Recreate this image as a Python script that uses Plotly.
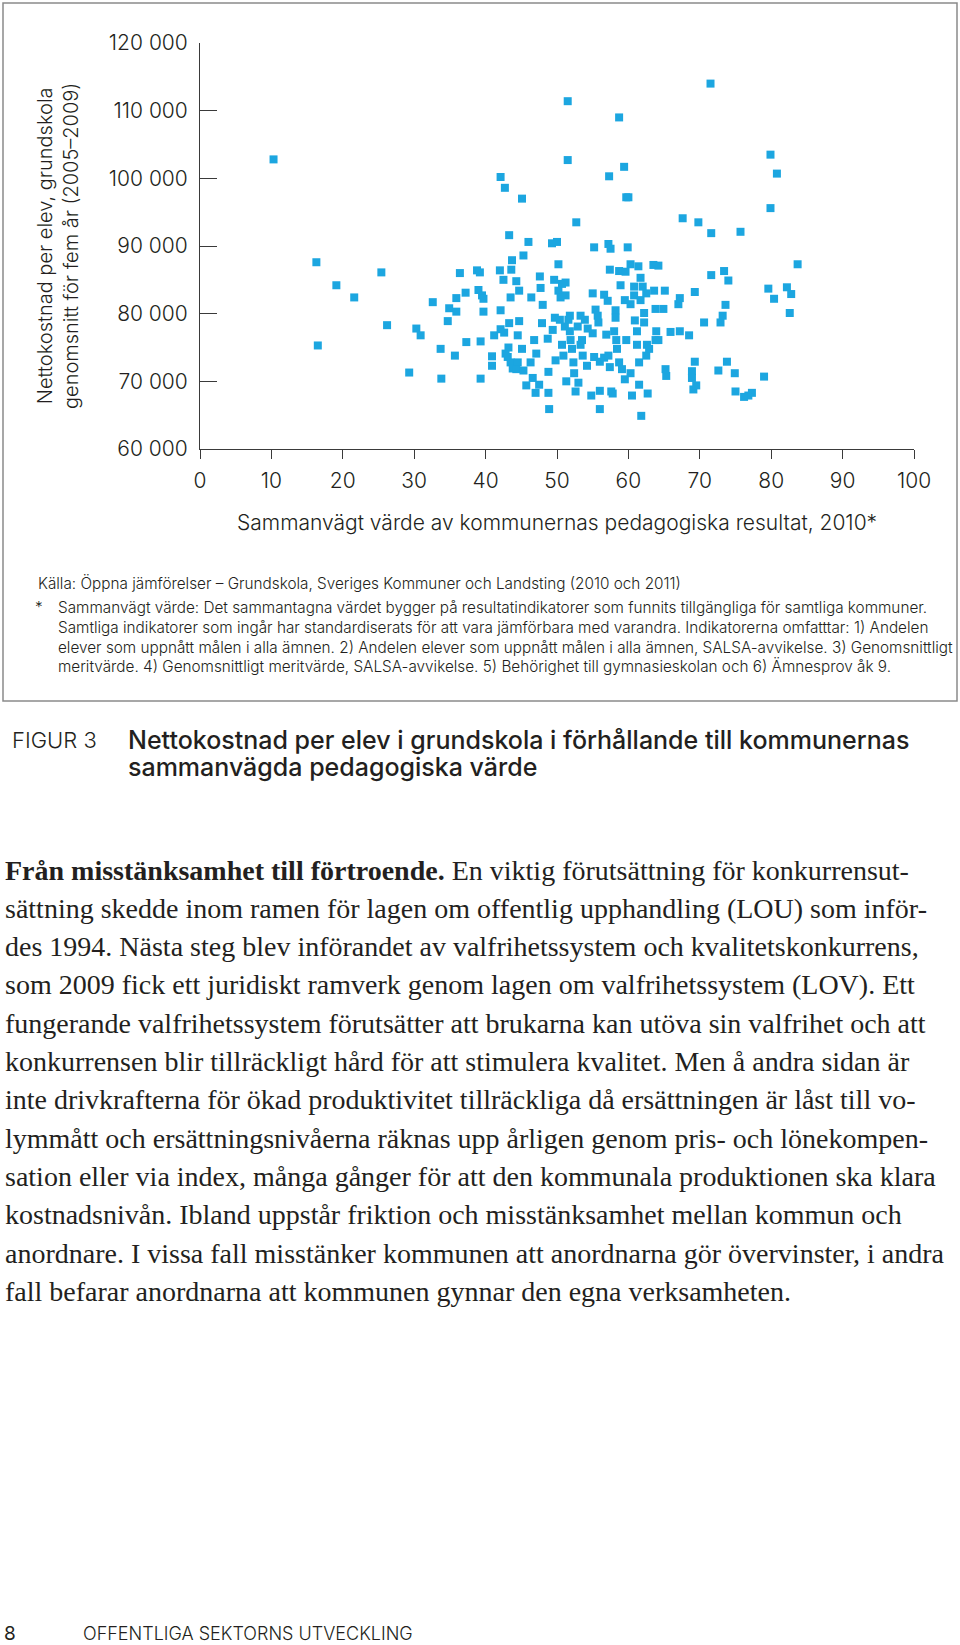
import plotly.graph_objects as go

# ---------------- data ----------------
pedagogiskt_varde = [
 10.3,16.3,16.5,19.1,21.6,25.4,26.2,29.3,30.3,30.9,32.6,33.7,33.8,34.9,34.7,35.9,35.9,35.7,36.4,37.2,
 37.3,38.8,39.2,39.0,39.5,39.7,39.7,39.3,39.3,40.9,40.9,41.2,42.0,42.1,42.7,42.1,42.5,42.1,42.6,42.8,
 43.1,43.3,43.7,43.6,43.5,43.3,43.2,43.5,43.8,44.3,44.7,44.7,44.5,44.5,44.3,45.1,45.3,45.1,45.3,45.7,
 46.0,46.4,46.8,46.3,46.6,47.1,47.0,47.5,47.6,47.7,48.0,48.7,48.8,48.8,48.9,49.3,49.6,49.4,49.7,49.8,
 50.0,50.2,50.2,50.4,50.5,50.7,50.7,50.9,51.1,51.2,51.2,51.3,51.5,51.5,51.6,51.8,51.9,52.1,52.3,52.4,
 52.6,52.7,52.9,53.3,53.3,53.0,53.6,53.9,54.2,54.8,55.0,55.0,55.2,55.2,55.4,55.7,55.8,56.0,56.0,56.0,
 56.6,56.6,57.1,57.2,57.3,57.5,57.4,57.2,57.4,57.6,57.8,58.0,58.2,58.3,58.4,58.7,58.7,58.9,58.7,59.1,
 59.4,59.6,59.7,60.0,59.9,59.5,59.7,59.5,60.3,60.3,60.3,60.5,60.8,60.8,61.2,61.2,61.4,61.5,61.5,61.7,
 61.7,62.0,62.2,62.2,62.5,62.6,62.7,62.5,61.8,63.5,64.2,63.6,63.8,63.9,63.8,64.2,64.9,65.1,65.3,65.2,
 65.9,67.2,67.0,67.2,67.6,68.5,68.9,68.9,69.1,69.3,69.5,69.3,69.8,70.6,71.5,71.6,71.6,72.6,72.9,73.2,
 73.4,73.6,74.0,73.8,74.9,75.0,75.7,76.2,76.8,77.3,79.0,79.6,79.9,79.9,80.4,80.8,82.2,82.8,82.6,83.7,
 51.8,54.3,58.2,53.5,62.9,47.9,56.9,60.9,
]
nettokostnad = [
 102800,87600,75300,84200,82400,86100,78300,71300,77800,76800,81700,74800,70400,80800,78900,80300,82300,73800,86000,83100,
 75800,86400,86100,83500,82700,82200,80300,75900,70400,73700,72300,76800,86400,100200,98600,80500,85000,77700,77200,74100,
 73600,91600,87900,86500,82400,78600,75000,72800,71900,84800,83400,78900,76800,72800,71800,97000,88600,74800,71600,69400,
 90600,82400,76100,72800,70500,74100,68300,69500,85500,83800,81300,76300,71400,68300,65900,90400,85000,77600,79400,73100,
 90600,87300,83400,79100,82400,84400,75400,73800,78100,84600,82700,70000,111400,102700,79100,77400,76100,74800,72800,71200,
 68500,93500,78100,79700,75400,69800,73800,79100,72300,67900,83000,77100,89800,73600,80600,79700,78700,72900,68600,65900,
 73500,82800,81900,90300,100300,89600,86500,73800,72100,68500,68200,77400,80500,76100,74800,109000,86300,84200,72800,71800,
 101700,86200,97200,97200,89800,82000,76100,70300,87300,81400,71200,67900,84000,82700,77400,75400,87000,72800,69500,82000,
 85300,84000,80100,78700,73800,75400,68200,83000,64900,87200,87100,83400,80700,77400,76100,76100,80700,83400,70800,71800,
 77300,77400,81400,82300,94100,76800,71500,70500,68800,72900,69400,83200,93500,78700,114000,91900,85700,71600,78700,79700,
 86300,81300,84900,72900,71200,68500,92100,67700,67900,68300,70700,83700,95600,103500,82200,100700,83900,82900,80100,87300,
 79700,77800,79400,76100,74800,78600,76900,79000,
]

x_tickvals = [0, 10, 20, 30, 40, 50, 60, 70, 80, 90, 100]
x_ticktext = ["0", "10", "20", "30", "40", "50", "60", "70", "80", "90", "100"]
y_tickvals = [60000, 70000, 80000, 90000, 100000, 110000, 120000]
y_ticktext = ["60 000", "70 000", "80 000", "90 000", "100 000", "110 000", "120 000"]

x_title = "Sammanvägt värde av kommunernas pedagogiska resultat, 2010*"
y_title = "Nettokostnad per elev, grundskola<br>genomsnitt för fem år (2005–2009)"

kalla = "Källa: Öppna jämförelser – Grundskola, Sveriges Kommuner och Landsting (2010 och 2011)"
fotnot = [
 "Sammanvägt värde: Det sammantagna värdet bygger på resultatindikatorer som funnits tillgängliga för samtliga kommuner.",
 "Samtliga indikatorer som ingår har standardiserats för att vara jämförbara med varandra. Indikatorerna omfatttar: 1) Andelen",
 "elever som uppnått målen i alla ämnen. 2) Andelen elever som uppnått målen i alla ämnen, SALSA-avvikelse. 3) Genomsnittligt",
 "meritvärde. 4) Genomsnittligt meritvärde, SALSA-avvikelse. 5) Behörighet till gymnasieskolan och 6) Ämnesprov åk 9.",
]
figur_label = "FIGUR 3"
figur_rubrik = ["Nettokostnad per elev i grundskola i förhållande till kommunernas",
                "sammanvägda pedagogiska värde"]
brodtext = [
 "<b>Från misstänksamhet till förtroende.</b> En viktig förutsättning för konkurrensut-",
 "sättning skedde inom ramen för lagen om offentlig upphandling (LOU) som inför-",
 "des 1994. Nästa steg blev införandet av valfrihetssystem och kvalitetskonkurrens,",
 "som 2009 fick ett juridiskt ramverk genom lagen om valfrihetssystem (LOV). Ett",
 "fungerande valfrihetssystem förutsätter att brukarna kan utöva sin valfrihet och att",
 "konkurrensen blir tillräckligt hård för att stimulera kvalitet. Men å andra sidan är",
 "inte drivkrafterna för ökad produktivitet tillräckliga då ersättningen är låst till vo-",
 "lymmått och ersättningsnivåerna räknas upp årligen genom pris- och lönekompen-",
 "sation eller via index, många gånger för att den kommunala produktionen ska klara",
 "kostnadsnivån. Ibland uppstår friktion och misstänksamhet mellan kommun och",
 "anordnare. I vissa fall misstänker kommunen att anordnarna gör övervinster, i andra",
 "fall befarar anordnarna att kommunen gynnar den egna verksamheten.",
]
sidnummer = "8"
sidfot = "OFFENTLIGA SEKTORNS UTVECKLING"

# ---------------- layout helpers ----------------
W, H = 960, 1645
def px(x): return x / W
def py(y): return 1 - y / H

SANS = "Inter, Lato, 'Open Sans', sans-serif"
SERIF = "'Liberation Serif', 'DejaVu Serif', serif"
TXT = "#231F20"
BLUE = "#1CA6E0"

fig = go.Figure()
fig.add_trace(go.Scatter(
    x=pedagogiskt_varde, y=nettokostnad, mode="markers",
    marker=dict(symbol="square", size=8, color=BLUE, line=dict(width=0)),
    hoverinfo="x+y", showlegend=False,
))

axis_common = dict(showgrid=False, zeroline=False, showline=True, linecolor="#3a3a3a",
                   linewidth=1, tickcolor="#3a3a3a", tickwidth=1, automargin=False,
                   tickfont=dict(family=SANS, size=21, color=TXT, weight=300))
fig.update_xaxes(range=[0, 100], domain=[px(200), px(914)], tickmode="array",
                 tickvals=x_tickvals, ticktext=x_ticktext, ticks="outside", ticklen=9,
                 ticklabelstandoff=4, **axis_common)
fig.update_yaxes(range=[60000, 120000], domain=[py(449), py(43)], tickmode="array",
                 tickvals=y_tickvals, ticktext=y_ticktext, ticks="inside", ticklen=17,
                 ticklabelstandoff=7, **axis_common)

ann = []
def A(text, x, y, size, family=SANS, xanchor="left", yanchor="middle", color=TXT, angle=0, align="left", weight=None):
    f = dict(family=family, size=size, color=color)
    if weight is not None:
        f["weight"] = weight
    ann.append(dict(text=text, x=px(x), y=py(y), xref="paper", yref="paper", showarrow=False,
                    xanchor=xanchor, yanchor=yanchor, font=f, textangle=angle, align=align,
                    borderpad=0))

A(x_title, 557, 522, 21, xanchor="center", weight=300)
A(y_title, 58, 246, 20, xanchor="center", angle=-90, align="center", weight=300)
A(kalla, 37, 583, 15.3, weight=300)
A("*", 34, 608, 15.3, weight=300)
for i, line in enumerate(fotnot):
    A(line, 57, 608 + i * 19.6, 15.3, weight=300)
A(figur_label, 11, 740, 22, weight=300)
for i, line in enumerate(figur_rubrik):
    A(line, 127, 740 + i * 27, 25, weight=500)
for i, line in enumerate(brodtext):
    A(line, 4, 870 + i * 38.3, 28, family=SERIF)
A(sidnummer, 3, 1633, 19)
A(sidfot, 82, 1633, 18, weight=300)

fig.update_layout(
    width=W, height=H, autosize=False,
    margin=dict(l=0, r=0, t=0, b=0, pad=0, autoexpand=False),
    paper_bgcolor="white", plot_bgcolor="white",
    annotations=ann,
    shapes=[dict(type="rect", xref="paper", yref="paper", x0=px(3), x1=px(957), y0=py(701), y1=py(3),
                 line=dict(color="#8a8a8a", width=1.5), fillcolor="rgba(0,0,0,0)", layer="below")],
)

fig.write_html("out.html")
